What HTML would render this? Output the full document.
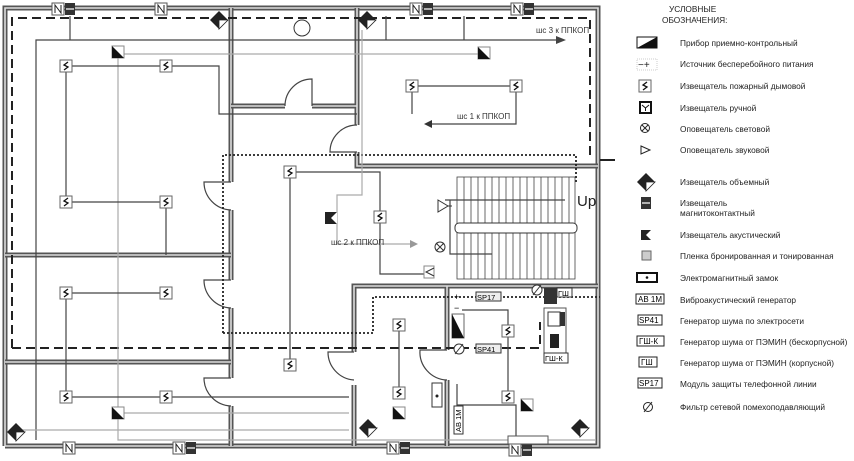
<!DOCTYPE html>
<html><head><meta charset="utf-8"><style>
html,body{margin:0;padding:0;background:#fff;}
svg{display:block;font-family:"Liberation Sans",sans-serif;}
.w{stroke:#555;stroke-width:5;fill:none;}
.wi{stroke:#ddd;stroke-width:1.6;fill:none;}
.l{stroke:#444;stroke-width:1.2;fill:none;}
.g{stroke:#aaa;stroke-width:1.2;fill:none;}
.lt{font-size:8.3px;fill:#222;}
</style></head><body>
<svg width="854" height="461" viewBox="0 0 854 461" xmlns="http://www.w3.org/2000/svg">
<defs>
<g id="s"><rect x="-6" y="-6" width="12" height="12" fill="#fff" stroke="#666" stroke-width="1"/><path d="M2,-4 L-2,-1 L2,1 L-2,4" stroke="#111" stroke-width="1.3" fill="none"/></g>
<g id="p"><rect x="-6" y="-6" width="12" height="12" fill="#fff" stroke="#888" stroke-width="1"/><path d="M-6,-6 L6,6 L-6,6Z" fill="#111"/></g>
<g id="n"><rect x="-6" y="-6" width="12" height="12" fill="#fff" stroke="#555" stroke-width="1"/><path d="M-3,4 V-4 L3,4 V-4" stroke="#222" fill="none"/></g>
<g id="m"><rect x="-5" y="-6" width="10" height="12" fill="#333"/><line x1="-4" y1="0" x2="4" y2="0" stroke="#ddd" stroke-width="1.5"/></g>
<g id="v"><path d="M0,-9 L9,0 L0,9 L-9,0Z" fill="#222"/><path d="M0,0 L9,0 L0,9Z" fill="#fff" stroke="#222" stroke-width=".8"/></g>
</defs>

<path class="w" d="M5,446 V8 H598 V446 H5"/>
<path class="wi" d="M5,446 V8 H598 V446 H5"/>
<path class="w" d="M231,8 V182 M231,210 V280 M231,308 V378 M231,406 V446"/>
<path class="wi" d="M231,8 V182 M231,210 V280 M231,308 V378 M231,406 V446"/>
<path class="w" d="M5,255 H231 M5,362 H231 M231,106 H285 M312,106 H357 M357,8 V125 M357,152 V166 H598"/>
<path class="wi" d="M5,255 H231 M5,362 H231 M231,106 H285 M312,106 H357 M357,8 V125 M357,152 V166 H598"/>
<path class="w" d="M354,446 V385 M354,352 V286 H598 M447,286 V350 M447,380 V446"/>
<path class="wi" d="M354,446 V385 M354,352 V286 H598 M447,286 V350 M447,380 V446"/>
<path class="l" d="M285,106 A27,27 0 0 1 312,79 V106"/>
<path class="l" d="M357,125 A27,27 0 0 0 330,152 H357" />
<path class="l" d="M231,182 H204 A28,28 0 0 0 231,210"/>
<path class="l" d="M231,280 H204 A28,28 0 0 0 231,308"/>
<path class="l" d="M231,378 H204 A28,28 0 0 0 231,406"/>
<path class="l" d="M354,352 H328 A28,28 0 0 0 354,380"/>
<path class="l" d="M447,350 H420 A28,28 0 0 0 447,380"/>
<path d="M12,348 V18 H590 V160" stroke="#222" stroke-width="2" stroke-dasharray="9,5" fill="none"/>
<path d="M12,348 H540 V322" stroke="#222" stroke-width="2" stroke-dasharray="9,5" fill="none"/>
<path d="M600,160 H615" stroke="#222" stroke-width="2"/>
<path d="M223,333 V155 H576 V183 M223,333 H373 V297 H600" stroke="#222" stroke-width="1.8" stroke-dasharray="2,2" fill="none"/>
<g stroke="#444" stroke-width=".8">
<rect x="457" y="177" width="118" height="102" fill="none"/>
<path d="M464,177 V279 M471,177 V279 M478,177 V279 M485,177 V279 M492,177 V279 M499,177 V279 M506,177 V279 M513,177 V279 M520,177 V279 M527,177 V279 M534,177 V279 M541,177 V279 M548,177 V279 M555,177 V279 M562,177 V279 M569,177 V279"/>
</g>
<rect x="455" y="223" width="122" height="10" rx="4" fill="#fff" stroke="#333"/>
<text x="577" y="206" font-size="15" fill="#222">Up</text>
<path class="l" d="M36,440 V40 H70 V16 M70,40 H563"/>
<path d="M556,36 L566,40 L556,44Z" fill="#444"/>
<path class="l" d="M386,16 V40 M464,16 V40"/>
<text x="536" y="33" font-size="8" fill="#333">шс 3 к ППКОП</text>
<path class="g" d="M118,54 V440 H595 M118,54 H484"/>
<path class="l" d="M66,66 H166 H219 V114 H357 M66,66 V202 H166 V255 M66,202"/>
<path class="l" d="M412,86 H516 V124 H432 M412,86 V114"/>
<path d="M432,120 L424,124 L432,128Z" fill="#333"/>
<text x="457" y="119" font-size="8" fill="#333">шс 1 к ППКОП</text>
<path class="l" d="M66,293 H166 M66,293 V397 H166 H349"/>
<path class="l" d="M290,172 H380 V274 H424 M290,172 V365"/>
<path class="g" d="M362,30 V195 H337 V244 H410"/>
<path d="M410,240 L418,244 L410,248Z" fill="#999"/>
<text x="331" y="245" font-size="8" fill="#333">шс 2 к ППКОП</text>
<path class="l" d="M445,200 H565 M450,200 V254 H492"/>
<path class="l" d="M399,325 V393 M462,310 H508 V397 M457,384 V405 H516 V440"/>
<path class="g" d="M122,413 H349 M20,430 H349"/>
<use href="#n" x="58" y="9"/><use href="#m" x="70" y="9"/>
<use href="#n" x="161" y="9"/>
<use href="#n" x="416" y="9"/><use href="#m" x="428" y="9"/>
<use href="#n" x="517" y="9"/><use href="#m" x="529" y="9"/>
<use href="#v" x="219" y="20"/><use href="#v" x="367" y="20"/>
<use href="#n" x="69" y="448"/>
<use href="#n" x="179" y="448"/><use href="#m" x="191" y="448"/>
<use href="#n" x="393" y="448"/><use href="#m" x="405" y="448"/>
<use href="#n" x="515" y="450"/><use href="#m" x="527" y="450"/>
<use href="#v" x="16" y="432"/><use href="#v" x="368" y="428"/><use href="#v" x="580" y="428"/>
<use href="#s" x="66" y="66"/><use href="#s" x="166" y="66"/>
<use href="#s" x="66" y="202"/><use href="#s" x="166" y="202"/>
<use href="#s" x="66" y="293"/><use href="#s" x="166" y="293"/>
<use href="#s" x="66" y="397"/><use href="#s" x="166" y="397"/>
<use href="#s" x="290" y="172"/><use href="#s" x="380" y="217"/><use href="#s" x="290" y="365"/>
<use href="#s" x="412" y="86"/><use href="#s" x="516" y="86"/>
<use href="#s" x="399" y="325"/><use href="#s" x="399" y="393"/>
<use href="#s" x="508" y="331"/><use href="#s" x="508" y="397"/>
<use href="#p" x="118" y="52"/><use href="#p" x="484" y="53"/><use href="#p" x="118" y="413"/>
<use href="#p" x="399" y="413"/><use href="#p" x="527" y="405"/>
<rect x="325" y="212" width="12" height="12" fill="#222"/><path d="M337,212 L331,218 L337,224Z" fill="#fff"/>
<circle cx="302" cy="28" r="8" fill="#fff" stroke="#333"/>
<path d="M438,200 L448,206 L438,212Z M448,206 h4" fill="#fff" stroke="#333"/>
<circle cx="440" cy="247" r="5" fill="#fff" stroke="#333"/><path d="M436,243 L444,251 M444,243 L436,251" stroke="#333"/>
<rect x="424" y="266" width="10" height="12" fill="#fff" stroke="#888"/><path d="M434,268 L426,272 L434,276" stroke="#333" fill="none"/>
<rect x="452" y="314" width="12" height="24" fill="#fff" stroke="#666"/><path d="M452,314 L464,338 H452Z" fill="#111"/>
<text x="454" y="300" font-size="9">+</text><text x="454" y="311" font-size="9">−</text>
<circle cx="459" cy="349" r="5" fill="#fff" stroke="#333"/><path d="M455,354 L463,344" stroke="#333"/>
<circle cx="537" cy="290" r="5" fill="#fff" stroke="#333"/><path d="M533,295 L541,285" stroke="#333"/>
<rect x="476" y="292" width="25" height="9" fill="#eee" stroke="#333"/><text x="477" y="300" font-size="7.5">SP17</text>
<rect x="476" y="344" width="25" height="9" fill="#eee" stroke="#333"/><text x="477" y="352" font-size="7.5">SP41</text>
<rect x="544" y="288" width="13" height="16" fill="#333"/>
<rect x="557" y="288" width="15" height="9" fill="#fff" stroke="#333"/><text x="558" y="296" font-size="7.5">ГШ</text>
<rect x="544" y="308" width="22" height="45" fill="#fff" stroke="#555"/>
<rect x="548" y="312" width="12" height="14" fill="#fff" stroke="#333"/><rect x="560" y="312" width="5" height="14" fill="#333"/>
<rect x="550" y="334" width="9" height="14" fill="#222"/>
<rect x="544" y="353" width="24" height="10" fill="#fff" stroke="#333"/><text x="545" y="361" font-size="7.5">ГШ-К</text>
<rect x="432" y="383" width="10" height="24" fill="#fff" stroke="#333"/><circle cx="437" cy="396" r="1.5" fill="#222"/>
<rect x="454" y="406" width="9" height="28" fill="#fff" stroke="#333"/><text transform="translate(461,432) rotate(-90)" font-size="7.5">АВ 1М</text>
<rect x="508" y="436" width="40" height="8" fill="#fff" stroke="#555"/>
<text x="669" y="12" class="lt">УСЛОВНЫЕ</text>
<text x="662" y="23" class="lt">ОБОЗНАЧЕНИЯ:</text>
<path d="M637,37 H657 V48 H637Z" fill="#fff" stroke="#111"/><path d="M637,48 L657,37 V48Z" fill="#111"/>
<text x="680" y="46" class="lt">Прибор приемно-контрольный</text>
<text x="638" y="68" font-size="10" fill="#222">−+</text><rect x="637" y="59" width="20" height="11" fill="none" stroke="#ccc" stroke-dasharray="1,1"/>
<text x="680" y="67" class="lt">Источник бесперебойного питания</text>
<use href="#s" x="645" y="86"/><text x="680" y="89" class="lt">Извещатель пожарный дымовой</text>
<rect x="640" y="102" width="11" height="11" fill="#fff" stroke="#111" stroke-width="2"/><path d="M642,105 L645.5,108 L649,105 M645.5,108 V111" stroke="#111" fill="none"/>
<text x="680" y="111" class="lt">Извещатель ручной</text>
<circle cx="645" cy="128" r="4.5" fill="#fff" stroke="#222"/><path d="M642,125 L648,131 M648,125 L642,131" stroke="#222"/>
<text x="680" y="132" class="lt">Оповещатель световой</text>
<path d="M641,146 L650,150 L641,154Z" fill="#fff" stroke="#222"/><text x="680" y="153" class="lt">Оповещатель звуковой</text>
<use href="#v" x="646" y="182"/><text x="680" y="185" class="lt">Извещатель объемный</text>
<use href="#m" x="646" y="203"/><text x="680" y="206" class="lt">Извещатель</text><text x="680" y="216" class="lt">магнитоконтактный</text>
<rect x="641" y="230" width="10" height="10" fill="#222"/><path d="M651,230 L646,235 L651,240Z" fill="#fff"/>
<text x="680" y="238" class="lt">Извещатель акустический</text>
<rect x="642" y="251" width="9" height="9" fill="#ccc" stroke="#666"/><text x="680" y="259" class="lt">Пленка бронированная и тонированная</text>
<rect x="637" y="273" width="20" height="9" fill="#fff" stroke="#111" stroke-width="2"/><circle cx="647" cy="277.5" r="1.3" fill="#111"/>
<text x="680" y="281" class="lt">Электромагнитный замок</text>
<rect x="636" y="294" width="28" height="10" fill="#fff" stroke="#222"/><text x="638" y="302" font-size="8">АВ 1М</text>
<text x="680" y="303" class="lt">Виброакустический генератор</text>
<rect x="638" y="315" width="24" height="10" fill="#fff" stroke="#222"/><text x="639" y="323" font-size="8">SP41</text>
<text x="680" y="324" class="lt">Генератор шума по электросети</text>
<rect x="637" y="336" width="27" height="10" fill="#fff" stroke="#222"/><text x="639" y="344" font-size="8">ГШ-К</text>
<text x="680" y="345" class="lt">Генератор шума от ПЭМИН (бескорпусной)</text>
<rect x="639" y="357" width="18" height="10" fill="#fff" stroke="#222"/><text x="641" y="365" font-size="8">ГШ</text>
<text x="680" y="366" class="lt">Генератор шума от ПЭМИН (корпусной)</text>
<rect x="638" y="378" width="24" height="10" fill="#fff" stroke="#222"/><text x="639" y="386" font-size="8">SP17</text>
<text x="680" y="387" class="lt">Модуль защиты телефонной линии</text>
<circle cx="648" cy="407" r="4.5" fill="none" stroke="#222"/><path d="M644,412 L652,402" stroke="#222"/>
<text x="680" y="410" class="lt">Фильтр сетевой помехоподавляющий</text>
</svg>
</body></html>
